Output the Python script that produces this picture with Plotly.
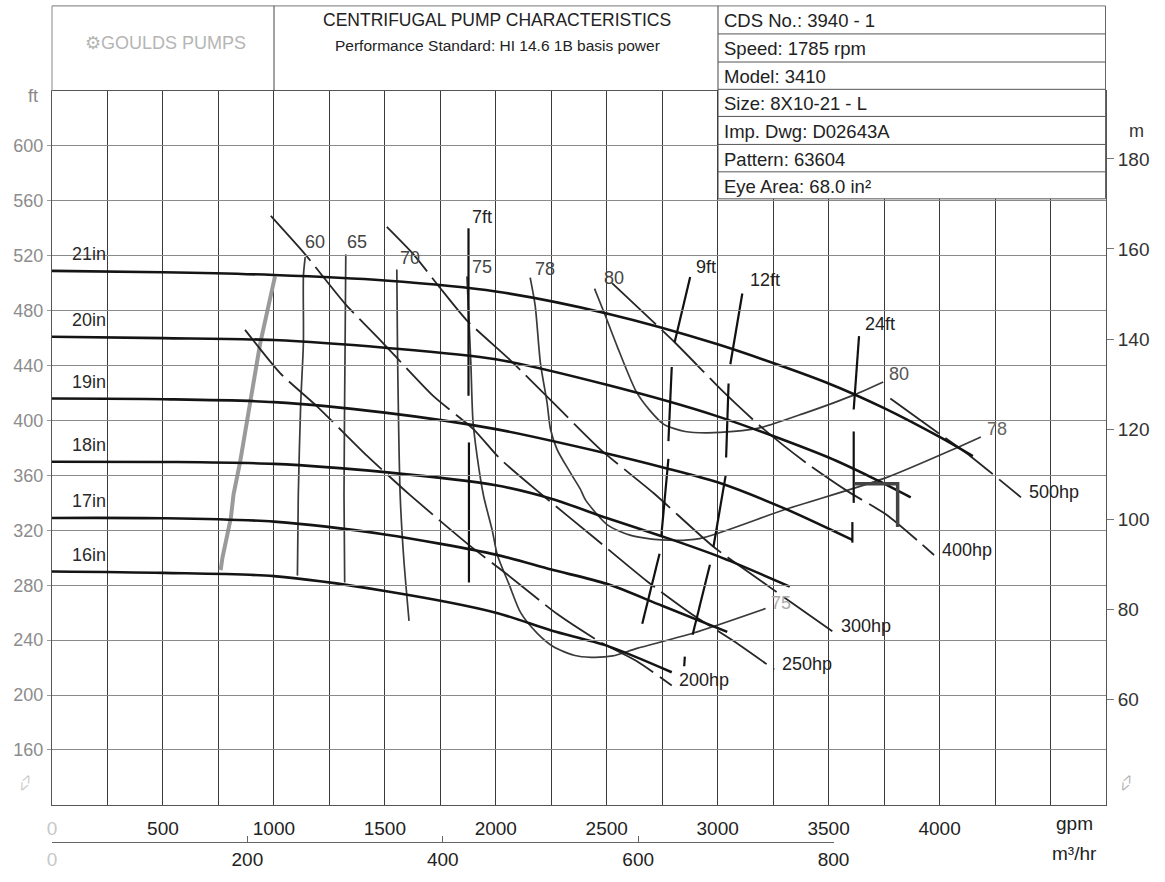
import plotly.graph_objects as go

# ---------------- DATA ----------------
# Impeller head curves: flow (gpm) and head (ft)
imp_names = ["21in", "20in", "19in", "18in", "17in", "16in"]
q_21 = [0, 500, 1000, 1500, 2000, 2500, 3000, 3500, 3750, 4000, 4150]
h_21 = [509, 508, 506, 502, 494, 478, 455.5, 427, 409, 388, 374]
q_20 = [0, 500, 1000, 1500, 2000, 2500, 3000, 3500, 3700, 3870]
h_20 = [461, 460, 458.6, 453, 444.6, 426, 403, 373, 358, 344]
q_19 = [0, 500, 1000, 1500, 2000, 2500, 2750, 3000, 3300, 3607]
h_19 = [416, 415.5, 413.4, 405.7, 393.7, 376, 366, 355, 336, 313]
q_18 = [0, 500, 1000, 1500, 2000, 2250, 2500, 2761, 3004, 3325]
h_18 = [370, 369.8, 368.4, 362.4, 352.8, 343, 329, 315, 301, 279]
q_17 = [0, 500, 1000, 1500, 2000, 2250, 2500, 2750, 3043]
h_17 = [329, 328.8, 326.3, 317, 302.3, 291.4, 281, 265, 246]
q_16 = [0, 500, 1000, 1500, 2000, 2250, 2500, 2793]
h_16 = [290, 289, 286.6, 275.8, 260, 247, 236, 216.6]

# Efficiency iso-lines (%)
eff_names = ["60", "65", "70", "75", "78", "80"]
q_e60 = [1141, 1133, 1133, 1121, 1110, 1106]
h_e60 = [519, 505, 457, 413, 346, 287]
q_e65 = [1324, 1321, 1316, 1319]
h_e65 = [521, 457, 346, 282]
q_e70 = [1554, 1557, 1569, 1585, 1609]
h_e70 = [510, 452, 346, 300, 254]
q_e75 = [1870, 1880, 1888, 1897, 1915, 1945, 1984, 2007, 2059, 2112, 2187, 2262, 2352, 2430, 2527, 2636, 2887, 3216]
h_e75 = [505, 470, 440, 400, 375, 345, 320, 302, 281, 260, 245, 235, 229, 227.5, 228.5, 234, 245, 263]
q_e78 = [2155, 2178, 2201, 2231, 2246, 2276, 2336, 2381, 2405, 2503, 2605, 2746, 2918, 3300, 3754, 4076, 4186]
h_e78 = [504, 483, 442, 413, 394, 379, 362, 350, 342, 324, 316.5, 313, 314, 335, 358, 380, 388]
q_e80 = [2445, 2492, 2547, 2633, 2696, 2759, 2853, 2947, 3072, 3198, 3386, 3613, 3746]
h_e80 = [496, 477, 454, 421, 407, 397, 392, 391, 392, 395, 405, 418.5, 428]

# Power lines (hp)
hp_names = ["200hp", "250hp", "300hp", "400hp", "500hp"]
q_p200 = [870, 1028, 1193, 1419, 1614, 1887, 2052, 2277, 2472, 2636, 2793]
h_p200 = [466, 434.5, 410.5, 374.4, 345.6, 308.3, 287.8, 259, 238.5, 224.6, 207]
q_p250 = [986, 1141, 1321, 1479, 1719, 1900, 2020, 2200, 2448, 2683, 2887, 3075, 3255]
h_p250 = [549, 521, 485, 458.6, 417.7, 393.6, 372, 347, 314, 282.7, 258.5, 239, 218.6]
q_p300 = [1509, 1629, 1742, 1869, 2065, 2246, 2471, 2712, 2981, 3231, 3521]
h_p300 = [541, 521, 498, 473, 444, 415, 379, 347, 308, 279, 246]
q_p400 = [2524, 2806, 3025, 3198, 3400, 3590, 3764, 3975]
h_p400 = [500, 457, 421, 395, 369, 348, 331, 302]
q_p500 = [3778, 3950, 4139, 4367]
h_p500 = [416, 396, 374, 344]

# NPSHr segments (ft)
npsh_names = ["7ft", "9ft", "12ft", "24ft"]
npsh_7_q = [[1877, 1877], [1879, 1879]]
npsh_7_h = [[540, 418], [384, 282]]
npsh_9_q = [[2876, 2806], [2793, 2778], [2778, 2746], [2738, 2660], [2852, 2849]]
npsh_9_h = [[504.5, 457], [439, 385], [372, 316], [303, 252], [228, 221]]
npsh_12_q = [[3111, 3057], [3049, 3038], [3036, 2981], [2965, 2887]]
npsh_12_h = [[492.5, 441], [427, 373], [360, 308], [295, 244]]
npsh_24_q = [[3637, 3613], [3613, 3613], [3607, 3607]]
npsh_24_h = [[461.5, 408], [392, 340], [326, 311]]

# Minimum flow line and duty bracket
q_min = [760, 768, 806, 818, 848, 893, 938, 1005]
h_min = [291, 300, 329, 346, 370, 413, 456, 505]
q_duty = [3615, 3811, 3811]
h_duty = [354, 354, 322.5]

# Axes
x_ticks_gpm = list(range(0, 4750, 250))
y_ticks_ft = list(range(160, 601, 40))
y_ticks_m = list(range(60, 181, 20))
x_ticks_m3 = [0, 200, 400, 600, 800]
GPM_PER_M3H = 4.40287
FT_PER_M = 3.28084
X_MAX, Y_MIN, Y_MAX = 4750, 120, 640

info_rows = ["CDS No.: 3940 - 1", "Speed: 1785 rpm", "Model: 3410", "Size: 8X10-21 - L",
             "Imp. Dwg: D02643A", "Pattern: 63604", "Eye Area: 68.0 in²"]

# ---------------- LAYOUT HELPERS ----------------
W, H = 1165, 882
L, R, T, B = 52, 59, 91, 32
PW, PH = W - L - R, H - T - B
Y0_PX = 812.5
YD0 = (H - B - Y0_PX) / PH
FONT = "Liberation Sans, Arial, sans-serif"


def px(x):
    return (x - L) / PW


def py(y):
    return (H - B - y) / PH


fig = go.Figure()


def add_line(q, h, color, width, dash="solid", shape="linear", smoothing=1.0):
    fig.add_trace(go.Scatter(x=q, y=h, mode="lines",
                             line=dict(color=color, width=width, dash=dash, shape=shape,
                                       smoothing=smoothing),
                             hoverinfo="skip", showlegend=False))


# empty traces that only realise the secondary axes (they draw nothing)
fig.add_trace(go.Scatter(x=x_ticks_m3, y=[None] * len(x_ticks_m3), xaxis="x2", yaxis="y",
                         mode="markers", hoverinfo="skip", showlegend=False))
fig.add_trace(go.Scatter(x=[None] * len(y_ticks_m), y=y_ticks_m, xaxis="x", yaxis="y2",
                         mode="markers", hoverinfo="skip", showlegend=False))

# min flow line
add_line(q_min, h_min, "#9a9a9a", 4)

# efficiency curves
eff_q = [q_e60, q_e65, q_e70, q_e75, q_e78, q_e80]
eff_h = [h_e60, h_e65, h_e70, h_e75, h_e78, h_e80]
for q, h in zip(eff_q, eff_h):
    add_line(q, h, "#3a3a3a", 1.7, shape="spline", smoothing=0.7)

# power lines
pw_q = [q_p200, q_p250, q_p300, q_p400, q_p500]
pw_h = [h_p200, h_p250, h_p300, h_p400, h_p500]
for q, h in zip(pw_q, pw_h):
    add_line(q, h, "#262626", 1.8, dash="60px,8px", shape="spline", smoothing=0.6)

# head curves
imp_q = [q_21, q_20, q_19, q_18, q_17, q_16]
imp_h = [h_21, h_20, h_19, h_18, h_17, h_16]
for q, h in zip(imp_q, imp_h):
    add_line(q, h, "#141414", 2.6, shape="spline", smoothing=0.8)

# NPSH segments
for segs_q, segs_h in [(npsh_7_q, npsh_7_h), (npsh_9_q, npsh_9_h),
                       (npsh_12_q, npsh_12_h), (npsh_24_q, npsh_24_h)]:
    for q, h in zip(segs_q, segs_h):
        add_line(q, h, "#111111", 2.2)

# duty bracket
add_line(q_duty, h_duty, "#444444", 3.5)

# ---------------- ANNOTATIONS ----------------
ann = []


def txt(x, y, s, size=18, color="#222", xanchor="center", yanchor="middle", xref="x", yref="y", angle=0):
    ann.append(dict(x=x, y=y, text=s, showarrow=False, xref=xref, yref=yref,
                    xanchor=xanchor, yanchor=yanchor, textangle=angle,
                    font=dict(family=FONT, size=size, color=color)))


# impeller labels (placed just above each curve's shut-off head)
for name, h in zip(imp_names, imp_h):
    txt(165, h[0] + 12, name, size=18, color="#2a2a2a")

eff_label_pos = {"60": (1186, 530), "65": (1374, 530), "70": (1614, 518),
                 "75": (1937, 512), "78": (2223, 510), "80": (2533, 504)}
for n in eff_names:
    x, y = eff_label_pos[n]
    txt(x, y, n, size=18, color="#444")
txt(3818, 434, "80", size=18, color="#555")
txt(4257, 394, "78", size=18, color="#666")
txt(3285, 267, "75", size=18, color="#aaa")

npsh_label_pos = {"7ft": (1937, 548), "9ft": (2949, 512), "12ft": (3215, 502), "24ft": (3732, 470)}
for n in npsh_names:
    x, y = npsh_label_pos[n]
    txt(x, y, n, size=18, color="#222")

for n, q, h in zip(hp_names, pw_q, pw_h):
    txt(q[-1] + 25, h[-1] + 4, n, size=18, color="#222", xanchor="left")

# header texts
txt(px(165), py(42), "⚙GOULDS PUMPS", size=18, color="#b5b5b5", xref="paper", yref="paper")
txt(px(497), py(19), "CENTRIFUGAL PUMP CHARACTERISTICS", size=17.5, color="#222", xref="paper", yref="paper")
txt(px(497), py(45), "Performance Standard: HI 14.6 1B basis power", size=15.5, color="#222",
    xref="paper", yref="paper")
row_edges = [5, 33.3, 61.7, 89.3, 116.7, 145, 172.7, 200]
for i, s in enumerate(info_rows):
    txt(px(722), py((row_edges[i] + row_edges[i + 1]) / 2 + 1), s, size=18.5, color="#222",
        xanchor="left", xref="paper", yref="paper")

# axis unit labels
txt(px(33), py(96), "ft", size=18, color="#888", xref="paper", yref="paper")
txt(px(1136), py(131), "m", size=18, color="#333", xref="paper", yref="paper")
txt(px(1074), py(831), "gpm", size=19, color="#222", xref="paper", yref="paper")
txt(px(1074), py(862), "m³/hr", size=19, color="#222", xref="paper", yref="paper")
txt(px(25), py(790), "<>", size=15, color="#c8c8c8", xref="paper", yref="paper", angle=-65)
txt(px(1126), py(790), "<>", size=15, color="#b0b0b0", xref="paper", yref="paper", angle=-65)

# ---------------- SHAPES (header boxes / info table) ----------------
shapes = []


def hline(x0, x1, y, color="#555", width=1, layer="above"):
    shapes.append(dict(type="line", xref="paper", yref="paper", x0=px(x0), x1=px(x1),
                       y0=py(y), y1=py(y), line=dict(color=color, width=width), layer=layer))


def vline(x, y0, y1, color="#555", width=1, layer="above"):
    shapes.append(dict(type="line", xref="paper", yref="paper", x0=px(x), x1=px(x),
                       y0=py(y0), y1=py(y1), line=dict(color=color, width=width), layer=layer))


# table background
shapes.append(dict(type="rect", xref="paper", yref="paper", x0=px(718), x1=px(1105.5),
                   y0=py(200), y1=py(5), fillcolor="white", line=dict(width=0), layer="above"))
hline(52, 1105.5, 5, color="#777")
vline(52, 5, 91, color="#888")
vline(274, 5, 91, color="#444")
vline(718, 5, 200, color="#444")
vline(1105.5, 5, 200, color="#666")
for yy in row_edges[1:]:
    hline(718, 1105.5, yy, color="#555")

# ---------------- AXES ----------------
x_ticktext = []
for v in x_ticks_gpm:
    if v == 0:
        x_ticktext.append("<span style='color:#c8c8c8'>0</span>")
    elif v % 500 == 0 and v <= 4000:
        x_ticktext.append(str(v))
    else:
        x_ticktext.append("")

m3_ticktext = ["<span style='color:#c8c8c8'>0</span>" if v == 0 else str(v) for v in x_ticks_m3]

fig.update_layout(
    width=W, height=H,
    margin=dict(l=L, r=R, t=T, b=B),
    paper_bgcolor="white", plot_bgcolor="rgba(0,0,0,0)",
    showlegend=False,
    font=dict(family=FONT, size=18, color="#222"),
    xaxis=dict(range=[0, X_MAX], domain=[0, 1], anchor="y",
               tickmode="array", tickvals=x_ticks_gpm, ticktext=x_ticktext,
               showgrid=True, gridcolor="#3a3a3a", gridwidth=1,
               showline=True, linecolor="#555", linewidth=1, mirror=True,
               ticks="", ticklabelstandoff=6, tickfont=dict(family=FONT, size=19, color="#222"),
               zeroline=False, fixedrange=True),
    xaxis2=dict(range=[0, 800], domain=[0, 800 * GPM_PER_M3H / X_MAX], anchor="free", position=0,
                tickmode="array", tickvals=x_ticks_m3, ticktext=m3_ticktext,
                showgrid=False, showline=True, linecolor="#666", linewidth=1,
                ticks="inside", ticklen=6, tickcolor="#666",
                tickfont=dict(family=FONT, size=19, color="#222"), zeroline=False),
    yaxis=dict(range=[Y_MIN, Y_MAX], domain=[YD0, 1], anchor="x",
               tickmode="array", tickvals=y_ticks_ft,
               showgrid=True, gridcolor="#8a8a8a", gridwidth=1,
               showline=True, linecolor="#555", linewidth=1, mirror=True,
               ticks="outside", ticklen=4, tickcolor="#999",
               tickfont=dict(family=FONT, size=18, color="#8c8c8c"),
               zeroline=False),
    yaxis2=dict(range=[Y_MIN / FT_PER_M, Y_MAX / FT_PER_M], domain=[YD0, 1], overlaying="y",
                side="right", anchor="x", tickmode="array", tickvals=y_ticks_m,
                showgrid=False, showline=False, ticks="outside", ticklen=7, tickcolor="#777",
                tickfont=dict(family=FONT, size=19, color="#333"), zeroline=False),
    annotations=ann,
    shapes=shapes,
)

fig.write_html("out.html", config={"displayModeBar": False},
               post_script="document.body.style.margin='0';")
